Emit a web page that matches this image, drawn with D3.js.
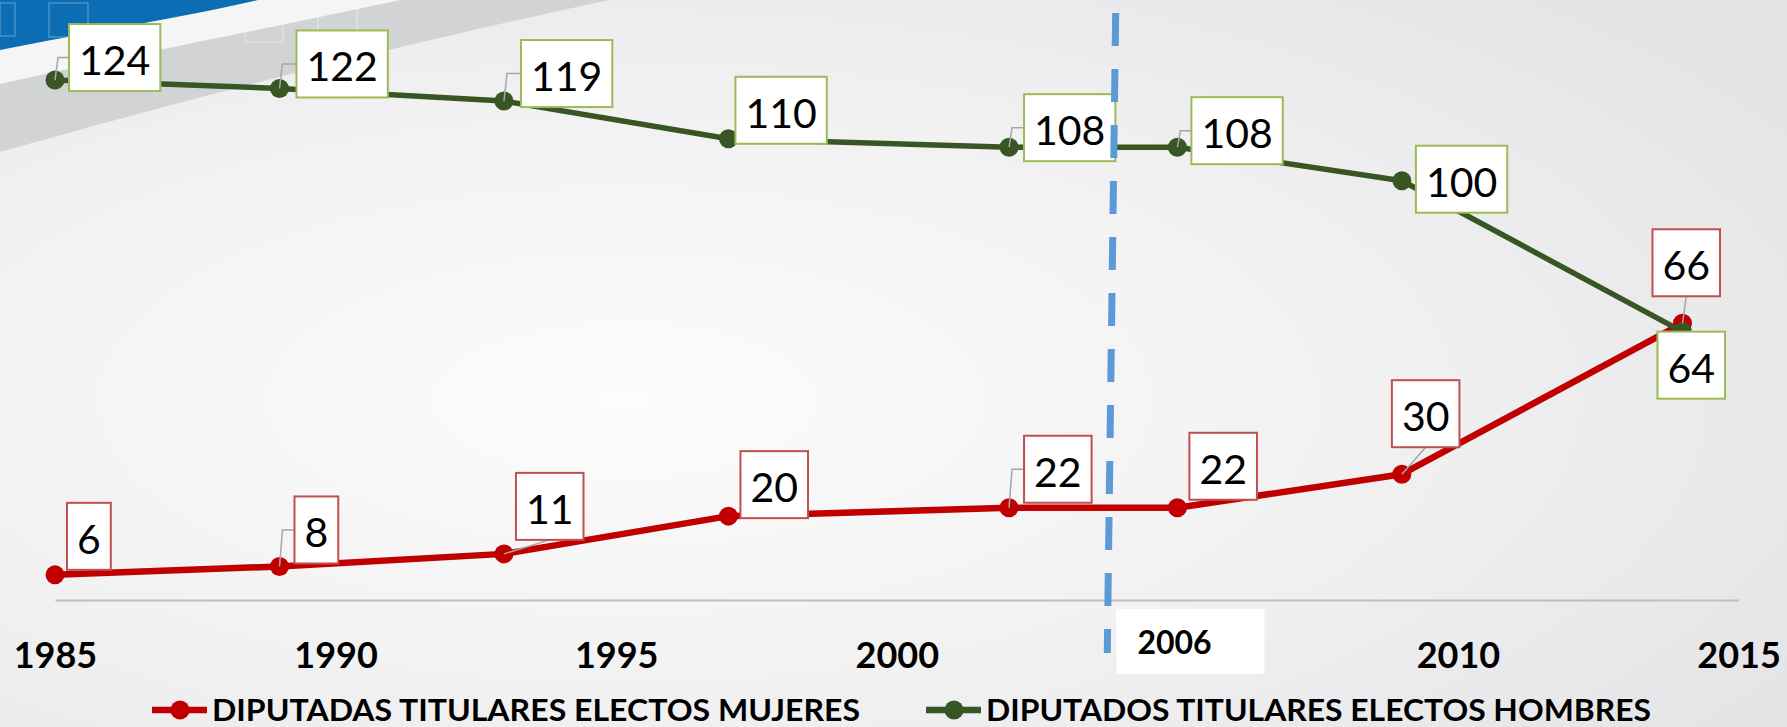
<!DOCTYPE html>
<html>
<head>
<meta charset="utf-8">
<script src="https://cdn.jsdelivr.net/npm/d3@7"></script>
<style>
html, body { margin: 0; padding: 0; background: #f2f2f2; }
svg { display: block; font-family: Lato, 'Open Sans', sans-serif; }
</style>
</head>
<body>
<svg id="chart" width="1787" height="727"></svg>
<script>
// data
var years = [1985, 1989, 1993, 1997, 2002, 2005, 2009, 2014];
var mujeres = [6, 8, 11, 20, 22, 22, 30, 66];
var hombres = [124, 122, 119, 110, 108, 108, 100, 64];
var tickYears = [1985, 1990, 1995, 2000, 2005, 2010, 2015];
var seriesNames = ['DIPUTADAS TITULARES ELECTOS MUJERES', 'DIPUTADOS TITULARES ELECTOS HOMBRES'];
var markerText = '2006';
var markerTick = 2005; // axis label hidden under the 2006 box
var markerYears = [2003.9, 2003.75]; // dashed divider, top / bottom

// label box offsets from the point (top-left corner), px
var offMujeres = [[12, -72], [15, -70], [12, -81], [12, -65], [15, -72], [12, -75], [-10, -94], [-30, -94]];
var offHombres = [[14, -56], [17, -58], [17, -61], [7, -62], [15, -53], [14, -50], [14, -35], [-25, 0]];

var W = 1787, H = 727;
var svg = d3.select('#chart');

var x = d3.scaleLinear().domain([1985, 2015]).range([55, 1738.6]);
var y = d3.scaleLinear().domain([0, 140]).range([600, 13]);

// background
var defs = svg.append('defs');
var rg = defs.append('radialGradient').attr('id', 'bg')
    .attr('cx', '35%').attr('cy', '55%').attr('r', '75%');
rg.append('stop').attr('offset', '0%').attr('stop-color', '#fcfcfc');
rg.append('stop').attr('offset', '55%').attr('stop-color', '#f1f1f2');
rg.append('stop').attr('offset', '100%').attr('stop-color', '#e5e5e8');
svg.append('rect').attr('width', W).attr('height', H).attr('fill', 'url(#bg)');

var deco = svg.append('g');
deco.append('path').attr('d', 'M0,0 L610,0 C420,40 200,95 0,152 Z').attr('fill', '#d2d3d5');
deco.append('path').attr('d', 'M0,0 L400,0 C270,28 130,55 0,84 Z').attr('fill', '#f5f5f6');
deco.append('path').attr('d', 'M0,0 L258,0 C180,18 90,32 0,50 Z').attr('fill', '#0b6db3');
[[0, 3, 15, 33], [49, 3, 39, 34]].forEach(function (r) {
    deco.append('rect').attr('x', r[0]).attr('y', r[1]).attr('width', r[2]).attr('height', r[3])
        .attr('fill', 'none').attr('stroke', 'rgba(255,255,255,0.25)').attr('stroke-width', 1.5);
});
[[245, 13, 38, 29], [318, 5, 39, 35]].forEach(function (r) {
    deco.append('rect').attr('x', r[0]).attr('y', r[1]).attr('width', r[2]).attr('height', r[3])
        .attr('fill', 'none').attr('stroke', 'rgba(255,255,255,0.35)').attr('stroke-width', 1.5);
});

// x axis
var axis = d3.axisBottom(x).tickValues(tickYears).tickFormat(d3.format('d'))
    .tickSize(0).tickSizeOuter(0);
var gx = svg.append('g').attr('transform', 'translate(0,' + y(0) + ')').call(axis)
    .attr('font-family', null).attr('font-size', 36).attr('font-weight', 'bold');
gx.select('.domain').attr('stroke', '#bfbfbf').attr('stroke-width', 2);
gx.selectAll('text').attr('y', 68).attr('dy', 0).attr('fill', '#000');
gx.selectAll('.tick').filter(function (d) { return d === markerTick; }).select('text').remove();

var series = [
    { name: seriesNames[0], values: mujeres, color: '#c00000', border: '#c0504d', width: 6.5, offsets: offMujeres },
    { name: seriesNames[1], values: hombres, color: '#375623', border: '#9bbb59', width: 5.5, offsets: offHombres }
];

var line = d3.line()
    .x(function (d, i) { return x(years[i]); })
    .y(function (d) { return y(d); });

series.forEach(function (s) {
    var g = svg.append('g');
    g.append('path').attr('d', line(s.values)).attr('fill', 'none')
        .attr('stroke', s.color).attr('stroke-width', s.width).attr('stroke-linejoin', 'round');
    g.selectAll('circle').data(s.values).enter().append('circle')
        .attr('cx', function (d, i) { return x(years[i]); })
        .attr('cy', function (d) { return y(d); })
        .attr('r', 9.5).attr('fill', s.color);
});

// data labels
series.forEach(function (s) {
    var g = svg.append('g');
    s.values.forEach(function (v, i) {
        var px = x(years[i]), py = y(v);
        var bx = px + s.offsets[i][0], by = py + s.offsets[i][1];
        var lg = g.append('g');
        var leader = lg.append('path').attr('fill', 'none').attr('stroke', '#a6a6a6').attr('stroke-width', 1.5);
        var rect = lg.append('rect').attr('x', bx).attr('y', by).attr('height', 67)
            .attr('fill', '#fff').attr('stroke', s.border).attr('stroke-width', 2);
        var t = lg.append('text').attr('x', bx + 10).attr('y', by + 51)
            .attr('font-size', 41).attr('fill', '#000').text(v);
        var bw = t.node().getComputedTextLength() + 20;
        rect.attr('width', bw);
        var mid = by + 33.5;
        if (bx - px > 13 && py > mid + 5) {
            leader.attr('d', 'M' + px + ',' + py + 'L' + (px + 3) + ',' + mid + 'L' + bx + ',' + mid);
        } else if (py > by + 67 + 10) {
            leader.attr('d', 'M' + px + ',' + py + 'L' + (bx + bw / 2) + ',' + (by + 67));
        }
    });
});

// dashed divider
svg.append('line')
    .attr('x1', x(markerYears[0])).attr('y1', y(140))
    .attr('x2', x(markerYears[1])).attr('y2', 653)
    .attr('stroke', '#5b9bd5').attr('stroke-width', 7).attr('stroke-dasharray', '33 23');

// 2006 box over the axis
var mx = x(markerTick) - 61;
svg.append('rect').attr('x', mx).attr('y', 609).attr('width', 148).attr('height', 65).attr('fill', '#fff');
svg.append('text').attr('x', mx + 21).attr('y', 654).attr('font-size', 32).attr('font-weight', 'bold')
    .attr('fill', '#000').text(markerText);

// legend
var legendPos = [[152, 648], [926, 665]];
series.forEach(function (s, i) {
    var lx = legendPos[i][0];
    var g = svg.append('g');
    g.append('line').attr('x1', lx).attr('x2', lx + 55).attr('y1', 710).attr('y2', 710)
        .attr('stroke', s.color).attr('stroke-width', 6.5);
    g.append('circle').attr('cx', lx + 28).attr('cy', 710).attr('r', 9.5).attr('fill', s.color);
    g.append('text').attr('x', lx + 60).attr('y', 721)
        .attr('font-size', 31).attr('font-weight', 'bold').attr('fill', '#000')
        .attr('textLength', legendPos[i][1]).attr('lengthAdjust', 'spacingAndGlyphs')
        .text(s.name);
});
</script>
</body>
</html>
